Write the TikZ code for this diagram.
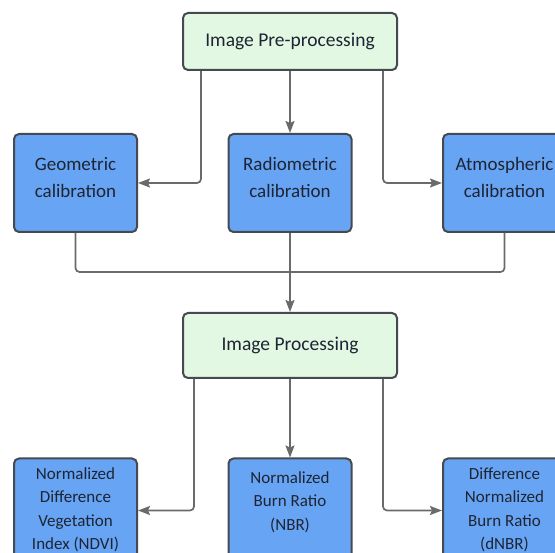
\documentclass[tikz,border=0pt]{standalone}
\usepackage{fontspec}
\setmainfont{Carlito}
\usepackage{tikz}
\usetikzlibrary{arrows, arrows.meta}
\usetikzlibrary{positioning}
\definecolor{vertpale}{HTML}{E3F8E3}
\definecolor{bleu}{HTML}{67A5F4}
\definecolor{bord}{HTML}{454A50}
\definecolor{gris}{HTML}{6A6A6A}
\definecolor{texte}{HTML}{1E2433}
\tikzstyle{fleche} = [-{Stealth[length=12pt,width=9pt,inset=2pt]},draw=gris,rounded corners=4pt,line width=1.7pt]
\tikzstyle{trait} = [draw=gris,rounded corners=4pt,line width=1.7pt]
\tikzstyle{etape} = [draw=bord,fill=vertpale,rounded corners=5pt,line width=2pt,minimum width=214pt,minimum height=57pt,text=texte,font=\fontsize{19.5}{23}\selectfont]
\tikzstyle{bloc} = [draw=bord,fill=bleu,rounded corners=5pt,line width=2pt,minimum width=123pt,minimum height=98pt,text=texte,align=center,inner sep=2pt]

\begin{document}
\begin{tikzpicture}[x=1pt,y=-1pt]
	\clip (0,0) rectangle (555,553);
	\fill[white] (0,0) rectangle (555,553);

%% Pre-traitement
	\node[etape] (pre) at (290,41.5) {Image Pre-processing};

	\node[bloc,font=\fontsize{19}{27}\selectfont] (geo) at (75.5,183) {Geometric\\calibration\\[-15pt]};
	\node[bloc,font=\fontsize{19}{27}\selectfont] (rad) at (290,183) {Radiometric\\calibration\\[-15pt]};
	\node[bloc,font=\fontsize{19}{27}\selectfont] (atm) at (504.5,183) {Atmospheric\\calibration\\[-15pt]};

	\draw[fleche] ([xshift=-89pt]pre.south) |- (geo.east);
	\draw[fleche] (pre.south) -- (rad.north);
	\draw[fleche] ([xshift=93pt]pre.south) |- (atm.west);

%% Regroupement
	\node[etape,minimum height=65pt] (proc) at (290,345.5) {Image Processing};

	\coordinate (merge) at (290,272);
	\draw[trait] (geo.south) |- (merge);
	\draw[trait] (atm.south) |- (merge);
	\draw[fleche] (rad.south) -- (proc.north);

%% Indices
	\node[bloc,minimum height=104pt,font=\fontsize{17}{23.5}\selectfont] (ndvi) at (75.5,510.5) {Normalized\\Difference\\Vegetation\\Index (NDVI)\\[-19.5pt]};
	\node[bloc,minimum height=104pt,font=\fontsize{17}{23.5}\selectfont] (nbr) at (290,510.5) {Normalized\\Burn Ratio\\(NBR)\\[-4.5pt]};
	\node[bloc,minimum height=104pt,font=\fontsize{17}{23.5}\selectfont] (dnbr) at (504.5,510.5) {Difference\\Normalized\\Burn Ratio\\(dNBR)\\[-19.5pt]};

	\draw[fleche] ([xshift=-96pt]proc.south) |- (ndvi.east);
	\draw[fleche] (proc.south) -- (nbr.north);
	\draw[fleche] ([xshift=93pt]proc.south) |- (dnbr.west);

\end{tikzpicture}
\end{document}
